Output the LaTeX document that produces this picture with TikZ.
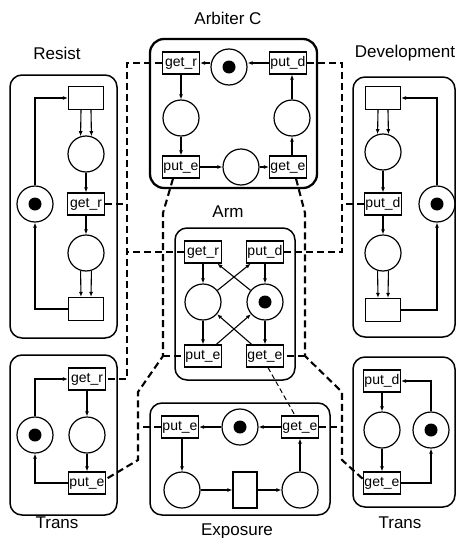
\documentclass[tikz,border=0pt]{standalone}
\usepackage{fontspec}
\setmainfont{Liberation Sans}
\usetikzlibrary{arrows.meta,calc}
\begin{document}
\begin{tikzpicture}[x=1pt,y=-1pt,
  trans/.style={draw, line width=1.2pt, minimum width=37pt, minimum height=22pt, inner sep=0pt, font=\fontsize{14}{15}\selectfont},
  blank/.style={draw, line width=1.2pt, minimum width=35pt, minimum height=23pt, inner sep=0pt},
  place/.style={draw, circle, line width=1.2pt, minimum size=36pt, inner sep=0pt},
  tok/.style={place, path picture={\fill (path picture bounding box.center) circle (6.5pt);}},
  arc/.style={-{Latex[length=5pt,width=4pt]}, line width=1.1pt},
  module/.style={draw, rounded corners=12pt, line width=1.5pt},
  bus/.style={line width=2.1pt, dash pattern=on 7pt off 4pt},
  thinbus/.style={line width=1pt, dash pattern=on 5pt off 3pt},
  title/.style={font=\fontsize{17}{19}\selectfont}
]
\useasboundingbox (0,0) rectangle (459,538);

% ---------- Arbiter C ----------
\draw[module, line width=2.3pt, rounded corners=14pt] (150,39) rectangle (317,188);
\node[title] (tA) at (228,18) {Arbiter C};
\node[trans] (agr) at (181,63) {get\_r};
\node[tok] (ap0) at (229,67) {};
\node[trans] (apd) at (288,63) {put\_d};
\node[place] (apl) at (181,118) {};
\node[place] (apr) at (292,118) {};
\node[trans] (ape) at (181,167) {put\_e};
\node[place] (apb) at (241,167) {};
\node[trans] (age) at (288,167) {get\_e};
\draw[arc] (ap0.west |- agr.east) -- (agr.east);
\draw[arc] (apd.west) -- (ap0.east |- apd.west);
\draw[arc] (agr) -- (apl);
\draw[arc] (apl) -- (ape);
\draw[arc] (ape) -- (apb);
\draw[arc] (apb) -- (age);
\draw[arc] (age.north -| apr) -- (apr.south);
\draw[arc] (apr.north) -- (apd.south -| apr);

% ---------- Resist ----------
\draw[module] (10,75) rectangle (117,338);
\node[title] (tR) at (57,53) {Resist};
\node[blank] (rt1) at (86,98) {};
\node[place] (rp1) at (86,154) {};
\node[trans] (rgr) at (86,204) {get\_r};
\node[place] (rp2) at (86,253) {};
\node[blank] (rt2) at (86,309) {};
\node[tok] (rp0) at (35,204) {};
\draw[arc] ([xshift=-5pt]rt1.south) -- (rp1.107);
\draw[arc] ([xshift=5pt]rt1.south) -- (rp1.73);
\draw[arc] (rp1) -- (rgr);
\draw[arc] (rgr) -- (rp2);
\draw[arc] (rp2.253) -- ([xshift=-5pt]rt2.north);
\draw[arc] (rp2.287) -- ([xshift=5pt]rt2.north);
\draw[arc] (rt2.west) -| (rp0.south);
\draw[arc] (rp0.north) |- (rt1.west);

% ---------- Development ----------
\draw[module] (353,77) rectangle (455,337);
\node[title] (tD) at (405,53) {Development};
\node[blank] (dt1) at (383,98) {};
\node[place] (dp1) at (383,152) {};
\node[trans] (dpd) at (383,204) {put\_d};
\node[place] (dp2) at (383,253) {};
\node[blank] (dt2) at (383,310) {};
\node[tok] (dp0) at (437,204) {};
\draw[arc] ([xshift=-5pt]dt1.south) -- (dp1.107);
\draw[arc] ([xshift=5pt]dt1.south) -- (dp1.73);
\draw[arc] (dp1) -- (dpd);
\draw[arc] (dpd) -- (dp2);
\draw[arc] (dp2.253) -- ([xshift=-5pt]dt2.north);
\draw[arc] (dp2.287) -- ([xshift=5pt]dt2.north);
\draw[arc] (dt2.east) -| (dp0.south);
\draw[arc] (dp0.north) |- (dt1.east);

% ---------- Arm ----------
\draw[module] (175,228) rectangle (295,380);
\node[title] (tM) at (228,212) {Arm};
\node[trans] (mgr) at (203,252) {get\_r};
\node[trans] (mpd) at (265,252) {put\_d};
\node[place] (mp1) at (203,302) {};
\node[tok] (mp2) at (265,302) {};
\node[trans] (mpe) at (203,356) {put\_e};
\node[trans] (mge) at (265,356) {get\_e};
\draw[arc] (mgr) -- (mp1);
\draw[arc] (mp1) -- (mpe);
\draw[arc] (mpd) -- (mp2);
\draw[arc] (mp2) -- (mge);
\draw[arc] (mp2) -- (mgr);
\draw[arc] (mp1) -- (mpd);
\draw[arc] (mpe) -- (mp2);
\draw[arc] (mge) -- (mp1);

% ---------- Trans (left) ----------
\draw[module] (10,355) rectangle (117,515);
\node[title] (tTL) at (57,523) {Trans};
\node[trans] (tgr) at (87,379) {get\_r};
\node[tok] (tp0) at (35,435) {};
\node[place] (tp1) at (87,435) {};
\node[trans] (tpe) at (87,483) {put\_e};
\draw[arc] (tgr) -- (tp1);
\draw[arc] (tp1) -- (tpe);
\draw[arc] (tp0.north) |- (tgr.west);
\draw[arc] (tpe.west) -| (tp0.south);

% ---------- Trans (right) ----------
\draw[module] (353,357) rectangle (455,507);
\node[title] (tTR) at (400,523) {Trans};
\node[trans] (upd) at (382,381) {put\_d};
\node[place] (up1) at (382,430) {};
\node[tok] (up0) at (431,430) {};
\node[trans] (uge) at (382,483) {get\_e};
\draw[arc] (upd) -- (up1);
\draw[arc] (up1) -- (uge);
\draw[arc] (uge.east) -| (up0.south);
\draw[arc] (up0.north) |- (upd.east);

% ---------- Exposure ----------
\draw[module] (150,403) rectangle (330,515);
\node[title] (tE) at (237,531) {Exposure};
\node[trans] (ept) at (180,427) {put\_e};
\node[tok] (ep0) at (240,427) {};
\node[trans] (eget) at (300,427) {get\_e};
\node[place] (epl) at (182,490) {};
\node[draw, line width=1.2pt, minimum width=24pt, minimum height=36pt, inner sep=0pt] (emt) at (245,490) {};
\node[place] (epr) at (300,490) {};
\draw[arc] (eget) -- (ep0);
\draw[arc] (ep0) -- (ept);
\draw[arc] (ept.south -| epl) -- (epl.north);
\draw[arc] (epl) -- (emt);
\draw[arc] (emt) -- (epr);
\draw[arc] (epr) -- (eget);

% ---------- dashed fusion lines ----------
% get_r
\coordinate (grT) at (127,63);
\coordinate (grB) at (127,379);
\draw[bus] (agr.west) -- (grT) -- (grB) -- (tgr.east);
\draw[bus] (rgr.east) -- (rgr.east -| grT);
\draw[bus] (mgr.west) -- (mgr.west -| grT);
% put_d
\coordinate (pdT) at (342,63);
\coordinate (pdB) at (342,252);
\draw[bus] (apd.east) -- (pdT) -- (pdB) -- (mpd.east);
\draw[bus] (dpd.west) -- (dpd.west -| pdT);
% put_e
\coordinate (pe1) at (163,213);
\coordinate (pe2) at (163,356);
\coordinate (pe3) at (138,392);
\coordinate (pe4) at (138,460);
\draw[bus] ([xshift=-8pt]ape.south) -- (pe1) -- (pe2) -- (pe3) -- (pe4) -- ([yshift=4pt]tpe.east);
\draw[bus] (pe2) -- (mpe.west);
\draw[bus] (ept.west) -- (ept.west -| pe3);
% get_e
\coordinate (ge1) at (305,213);
\coordinate (ge2) at (305,356);
\coordinate (ge3) at (342,392);
\coordinate (ge4) at (342,460);
\draw[bus] ([xshift=8pt]age.south) -- (ge1) -- (ge2) -- (ge3) -- (ge4) -- ([yshift=4pt]uge.west);
\draw[bus] (ge2) -- (mge.east);
\draw[bus] (eget.east) -- (eget.east -| ge3);
\draw[thinbus] ([xshift=3pt]mge.south) -- ([xshift=-5pt]eget.north);
\end{tikzpicture}
\end{document}
